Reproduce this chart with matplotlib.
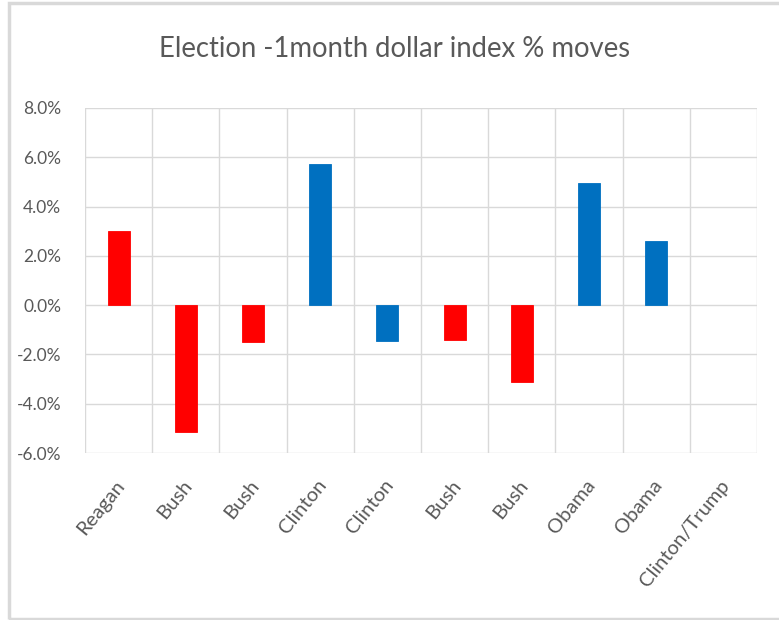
import matplotlib
matplotlib.use("Agg")
import matplotlib.pyplot as plt
from matplotlib.patches import Rectangle
import matplotlib.transforms as mtransforms
import numpy as np

categories = ["Reagan", "Bush", "Bush", "Clinton", "Clinton", "Bush", "Bush",
              "Obama", "Obama", "Clinton/Trump"]
moves = [3.0, -5.15, -1.5, 5.74, -1.46, -1.42, -3.13, 4.97, 2.59, np.nan]
party = ["R", "R", "R", "D", "D", "R", "R", "D", "D", None]
party_colors = {"R": "#FF0000", "D": "#0070C0", None: "#FFFFFF"}
yticks = [-6, -4, -2, 0, 2, 4, 6, 8]
title = "Election -1month dollar index % moves"

plt.rcParams['font.family'] = ['Lato', 'DejaVu Sans']
text_color = "#595959"
grid_color = "#D9D9D9"

fig = plt.figure(figsize=(7.79, 6.20), dpi=100)
fig.patch.set_facecolor("white")

# outer chart frame
fig.patches.append(Rectangle((9 / 779, 1 / 620), 1.2, 616 / 620, transform=fig.transFigure,
                             fill=False, edgecolor="#D9D9D9", linewidth=2.5))

ax = fig.add_axes([85 / 779, 1 - 453 / 620, (757 - 85) / 779, (453 - 108) / 620])
x = np.arange(len(categories))
colors = [party_colors[p] for p in party]
ax.bar(x, moves, width=0.33, color=colors, edgecolor=colors, linewidth=0.6, zorder=3)

ax.set_xlim(-0.5, len(categories) - 0.5)
ax.set_ylim(-6, 8)
ax.set_yticks(yticks)
ax.set_yticklabels([f"{v:.1f}%" for v in yticks], color=text_color, fontsize=12.5)

# vertical gridlines between categories
for b in np.arange(-0.5, len(categories), 1.0):
    ax.axvline(b, color=grid_color, linewidth=1.0, zorder=1)
ax.yaxis.grid(True, color=grid_color, linewidth=1.0, zorder=1)
ax.set_axisbelow(True)
for s in ax.spines.values():
    s.set_visible(False)
ax.tick_params(axis='both', length=0)
ax.tick_params(axis='y', pad=17)

ax.set_xticks(x)
ax.set_xticklabels(categories, rotation=51, ha='right', rotation_mode='anchor',
                   color=text_color, fontsize=14.5)
ax.tick_params(axis='x', pad=17)
offset = mtransforms.ScaledTranslation(-4 / 100, 0, fig.dpi_scale_trans)
for lbl in ax.get_xticklabels():
    lbl.set_transform(lbl.get_transform() + offset)

fig.text(395 / 779, 1 - 49 / 620, title, ha='center', va='center',
         fontsize=19.8, color=text_color)

fig.savefig("out.png", dpi=100, facecolor="white")
